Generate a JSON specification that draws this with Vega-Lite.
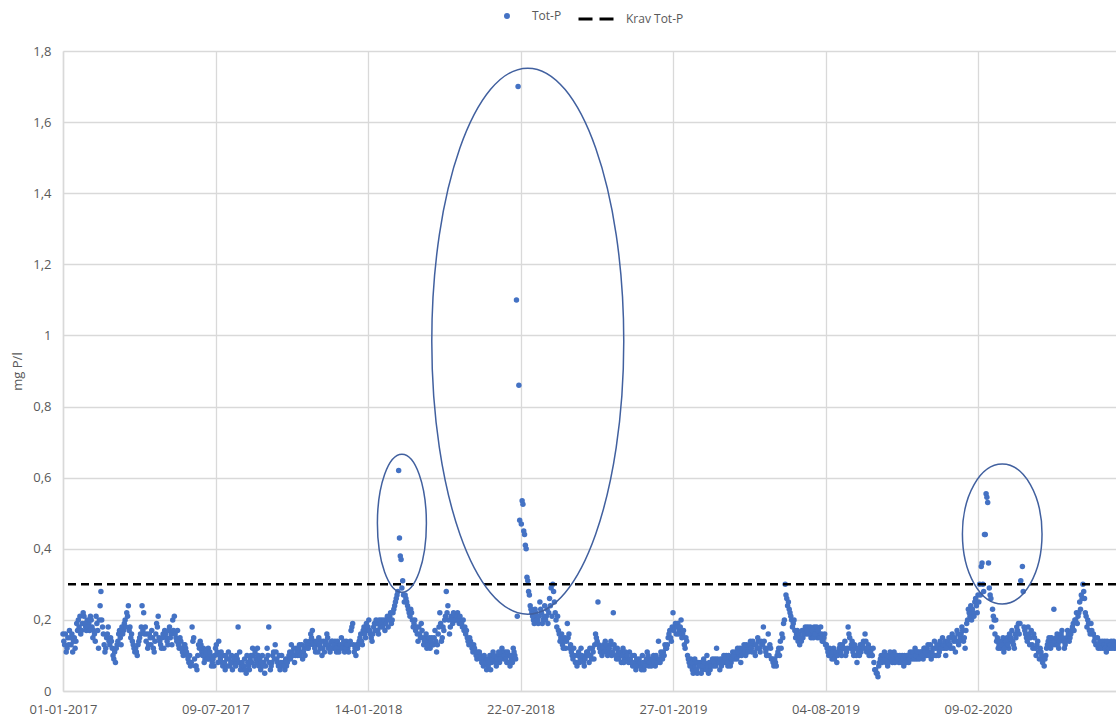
{
  "$schema": "https://vega.github.io/schema/vega-lite/v6.json",
  "width": 1053,
  "height": 640,
  "autosize": {"type": "none"},
  "padding": {"left": 63, "top": 51, "right": 0, "bottom": 29},
  "background": "white",
  "config": {
    "view": {"stroke": null},
    "font": "Open Sans",
    "axis": {"labelColor": "#595959", "titleColor": "#595959", "labelFontSize": 13, "titleFontSize": 13, "titleFontWeight": "normal", "gridColor": "#d9d9d9", "gridWidth": 1.3, "domainColor": "#d9d9d9", "domainWidth": 1.5, "ticks": false},
    "legend": {"labelColor": "#595959", "labelFontSize": 12, "padding": 0}
  },
  "resolve": {"scale": {"color": "independent"}, "legend": {"color": "independent"}},
  "layer": [
    {
      "data": {"values": [
{"d":"2017-01-01","v":0.16},{"d":"2017-01-03","v":0.13},{"d":"2017-01-05","v":0.11},{"d":"2017-01-07","v":0.15},{"d":"2017-01-09","v":0.17},{"d":"2017-01-11","v":0.13},{"d":"2017-01-13","v":0.11},{"d":"2017-01-15","v":0.15},{"d":"2017-01-17","v":0.14},{"d":"2017-01-19","v":0.17},{"d":"2017-01-21","v":0.18},{"d":"2017-01-23","v":0.16},{"d":"2017-01-25","v":0.19},{"d":"2017-01-27","v":0.21},{"d":"2017-01-29","v":0.18},{"d":"2017-01-31","v":0.2},
{"d":"2017-02-02","v":0.19},{"d":"2017-02-04","v":0.21},{"d":"2017-02-06","v":0.18},{"d":"2017-02-08","v":0.17},{"d":"2017-02-10","v":0.14},{"d":"2017-02-12","v":0.19},{"d":"2017-02-14","v":0.12},{"d":"2017-02-16","v":0.24},{"d":"2017-02-17","v":0.28},{"d":"2017-02-18","v":0.2},{"d":"2017-02-20","v":0.16},{"d":"2017-02-22","v":0.11},{"d":"2017-02-24","v":0.15},{"d":"2017-02-26","v":0.18},{"d":"2017-02-28","v":0.13},
{"d":"2017-03-01","v":0.15},{"d":"2017-03-03","v":0.12},{"d":"2017-03-05","v":0.09},{"d":"2017-03-07","v":0.08},{"d":"2017-03-09","v":0.13},{"d":"2017-03-11","v":0.16},{"d":"2017-03-13","v":0.15},{"d":"2017-03-15","v":0.18},{"d":"2017-03-17","v":0.17},{"d":"2017-03-19","v":0.2},{"d":"2017-03-21","v":0.22},{"d":"2017-03-23","v":0.24},{"d":"2017-03-25","v":0.18},{"d":"2017-03-27","v":0.16},{"d":"2017-03-29","v":0.13},{"d":"2017-03-31","v":0.11},
{"d":"2017-04-01","v":0.12},{"d":"2017-04-03","v":0.1},{"d":"2017-04-05","v":0.14},{"d":"2017-04-07","v":0.16},{"d":"2017-04-09","v":0.24},{"d":"2017-04-11","v":0.22},{"d":"2017-04-13","v":0.18},{"d":"2017-04-15","v":0.16},{"d":"2017-04-17","v":0.13},{"d":"2017-04-19","v":0.15},{"d":"2017-04-21","v":0.17},{"d":"2017-04-23","v":0.12},{"d":"2017-04-25","v":0.14},{"d":"2017-04-27","v":0.19},{"d":"2017-04-29","v":0.21},
{"d":"2017-05-01","v":0.14},{"d":"2017-05-03","v":0.12},{"d":"2017-05-05","v":0.16},{"d":"2017-05-07","v":0.17},{"d":"2017-05-09","v":0.15},{"d":"2017-05-11","v":0.13},{"d":"2017-05-13","v":0.18},{"d":"2017-05-15","v":0.16},{"d":"2017-05-17","v":0.2},{"d":"2017-05-19","v":0.21},{"d":"2017-05-21","v":0.15},{"d":"2017-05-23","v":0.17},{"d":"2017-05-25","v":0.12},{"d":"2017-05-27","v":0.14},{"d":"2017-05-29","v":0.11},{"d":"2017-05-31","v":0.13},
{"d":"2017-06-02","v":0.12},{"d":"2017-06-04","v":0.1},{"d":"2017-06-06","v":0.08},{"d":"2017-06-08","v":0.07},{"d":"2017-06-10","v":0.18},{"d":"2017-06-12","v":0.15},{"d":"2017-06-14","v":0.07},{"d":"2017-06-16","v":0.06},{"d":"2017-06-18","v":0.13},{"d":"2017-06-20","v":0.14},{"d":"2017-06-22","v":0.11},{"d":"2017-06-24","v":0.12},{"d":"2017-06-26","v":0.09},{"d":"2017-06-28","v":0.1},{"d":"2017-06-30","v":0.12},
{"d":"2017-07-01","v":0.09},{"d":"2017-07-03","v":0.1},{"d":"2017-07-05","v":0.08},{"d":"2017-07-07","v":0.07},{"d":"2017-07-09","v":0.12},{"d":"2017-07-11","v":0.11},{"d":"2017-07-13","v":0.14},{"d":"2017-07-15","v":0.09},{"d":"2017-07-17","v":0.08},{"d":"2017-07-19","v":0.1},{"d":"2017-07-21","v":0.06},{"d":"2017-07-23","v":0.09},{"d":"2017-07-25","v":0.11},{"d":"2017-07-27","v":0.07},{"d":"2017-07-29","v":0.1},{"d":"2017-07-31","v":0.08},
{"d":"2017-08-02","v":0.08},{"d":"2017-08-04","v":0.1},{"d":"2017-08-06","v":0.18},{"d":"2017-08-08","v":0.11},{"d":"2017-08-10","v":0.07},{"d":"2017-08-12","v":0.06},{"d":"2017-08-14","v":0.09},{"d":"2017-08-16","v":0.05},{"d":"2017-08-18","v":0.08},{"d":"2017-08-20","v":0.06},{"d":"2017-08-22","v":0.1},{"d":"2017-08-24","v":0.12},{"d":"2017-08-26","v":0.07},{"d":"2017-08-28","v":0.09},{"d":"2017-08-30","v":0.12},
{"d":"2017-09-01","v":0.07},{"d":"2017-09-03","v":0.06},{"d":"2017-09-05","v":0.1},{"d":"2017-09-07","v":0.08},{"d":"2017-09-09","v":0.07},{"d":"2017-09-11","v":0.12},{"d":"2017-09-13","v":0.18},{"d":"2017-09-15","v":0.06},{"d":"2017-09-17","v":0.08},{"d":"2017-09-19","v":0.11},{"d":"2017-09-21","v":0.13},{"d":"2017-09-23","v":0.09},{"d":"2017-09-25","v":0.07},{"d":"2017-09-27","v":0.06},{"d":"2017-09-29","v":0.1},
{"d":"2017-10-01","v":0.08},{"d":"2017-10-03","v":0.06},{"d":"2017-10-05","v":0.07},{"d":"2017-10-07","v":0.09},{"d":"2017-10-09","v":0.11},{"d":"2017-10-11","v":0.13},{"d":"2017-10-13","v":0.1},{"d":"2017-10-15","v":0.08},{"d":"2017-10-17","v":0.12},{"d":"2017-10-19","v":0.1},{"d":"2017-10-21","v":0.13},{"d":"2017-10-23","v":0.11},{"d":"2017-10-25","v":0.09},{"d":"2017-10-27","v":0.12},{"d":"2017-10-29","v":0.14},{"d":"2017-10-31","v":0.12},
{"d":"2017-11-02","v":0.13},{"d":"2017-11-04","v":0.16},{"d":"2017-11-06","v":0.17},{"d":"2017-11-08","v":0.14},{"d":"2017-11-10","v":0.11},{"d":"2017-11-12","v":0.13},{"d":"2017-11-14","v":0.15},{"d":"2017-11-16","v":0.12},{"d":"2017-11-18","v":0.1},{"d":"2017-11-20","v":0.14},{"d":"2017-11-22","v":0.13},{"d":"2017-11-24","v":0.16},{"d":"2017-11-26","v":0.12},{"d":"2017-11-28","v":0.11},{"d":"2017-11-30","v":0.14},
{"d":"2017-12-02","v":0.12},{"d":"2017-12-04","v":0.14},{"d":"2017-12-06","v":0.11},{"d":"2017-12-08","v":0.13},{"d":"2017-12-10","v":0.12},{"d":"2017-12-12","v":0.15},{"d":"2017-12-14","v":0.13},{"d":"2017-12-16","v":0.11},{"d":"2017-12-18","v":0.14},{"d":"2017-12-20","v":0.12},{"d":"2017-12-22","v":0.13},{"d":"2017-12-24","v":0.17},{"d":"2017-12-26","v":0.19},{"d":"2017-12-28","v":0.11},{"d":"2017-12-30","v":0.1},
{"d":"2018-01-01","v":0.12},{"d":"2018-01-03","v":0.14},{"d":"2018-01-05","v":0.16},{"d":"2018-01-07","v":0.13},{"d":"2018-01-09","v":0.18},{"d":"2018-01-11","v":0.15},{"d":"2018-01-13","v":0.17},{"d":"2018-01-15","v":0.2},{"d":"2018-01-17","v":0.16},{"d":"2018-01-19","v":0.14},{"d":"2018-01-21","v":0.18},{"d":"2018-01-23","v":0.17},{"d":"2018-01-25","v":0.19},{"d":"2018-01-27","v":0.16},{"d":"2018-01-29","v":0.18},{"d":"2018-01-31","v":0.2},
{"d":"2018-02-02","v":0.19},{"d":"2018-02-04","v":0.17},{"d":"2018-02-06","v":0.2},{"d":"2018-02-08","v":0.18},{"d":"2018-02-10","v":0.21},{"d":"2018-02-12","v":0.19},{"d":"2018-02-14","v":0.22},{"d":"2018-02-16","v":0.24},{"d":"2018-02-18","v":0.26},{"d":"2018-02-20","v":0.28},{"d":"2018-02-21","v":0.62},{"d":"2018-02-22","v":0.43},{"d":"2018-02-23","v":0.38},{"d":"2018-02-24","v":0.37},{"d":"2018-02-25","v":0.29},{"d":"2018-02-26","v":0.31},{"d":"2018-02-27","v":0.27},{"d":"2018-02-28","v":0.25},
{"d":"2018-03-02","v":0.26},{"d":"2018-03-04","v":0.24},{"d":"2018-03-06","v":0.22},{"d":"2018-03-08","v":0.23},{"d":"2018-03-10","v":0.2},{"d":"2018-03-12","v":0.19},{"d":"2018-03-14","v":0.17},{"d":"2018-03-16","v":0.16},{"d":"2018-03-18","v":0.18},{"d":"2018-03-20","v":0.15},{"d":"2018-03-22","v":0.17},{"d":"2018-03-24","v":0.13},{"d":"2018-03-26","v":0.15},{"d":"2018-03-28","v":0.12},{"d":"2018-03-30","v":0.14},
{"d":"2018-04-01","v":0.12},{"d":"2018-04-03","v":0.15},{"d":"2018-04-05","v":0.13},{"d":"2018-04-07","v":0.17},{"d":"2018-04-09","v":0.11},{"d":"2018-04-11","v":0.16},{"d":"2018-04-13","v":0.22},{"d":"2018-04-15","v":0.14},{"d":"2018-04-17","v":0.18},{"d":"2018-04-19","v":0.2},{"d":"2018-04-21","v":0.28},{"d":"2018-04-23","v":0.24},{"d":"2018-04-25","v":0.16},{"d":"2018-04-27","v":0.21},{"d":"2018-04-29","v":0.19},
{"d":"2018-05-01","v":0.21},{"d":"2018-05-03","v":0.2},{"d":"2018-05-05","v":0.22},{"d":"2018-05-07","v":0.19},{"d":"2018-05-09","v":0.2},{"d":"2018-05-11","v":0.18},{"d":"2018-05-13","v":0.17},{"d":"2018-05-15","v":0.16},{"d":"2018-05-17","v":0.15},{"d":"2018-05-19","v":0.13},{"d":"2018-05-21","v":0.14},{"d":"2018-05-23","v":0.12},{"d":"2018-05-25","v":0.13},{"d":"2018-05-27","v":0.11},{"d":"2018-05-29","v":0.09},{"d":"2018-05-31","v":0.1},
{"d":"2018-06-02","v":0.1},{"d":"2018-06-04","v":0.08},{"d":"2018-06-06","v":0.07},{"d":"2018-06-08","v":0.09},{"d":"2018-06-10","v":0.06},{"d":"2018-06-12","v":0.07},{"d":"2018-06-14","v":0.1},{"d":"2018-06-16","v":0.08},{"d":"2018-06-18","v":0.11},{"d":"2018-06-20","v":0.09},{"d":"2018-06-22","v":0.07},{"d":"2018-06-24","v":0.1},{"d":"2018-06-26","v":0.08},{"d":"2018-06-28","v":0.1},{"d":"2018-06-30","v":0.11},
{"d":"2018-07-01","v":0.09},{"d":"2018-07-03","v":0.11},{"d":"2018-07-05","v":0.08},{"d":"2018-07-07","v":0.1},{"d":"2018-07-09","v":0.07},{"d":"2018-07-11","v":0.09},{"d":"2018-07-13","v":0.12},{"d":"2018-07-15","v":0.1},{"d":"2018-07-17","v":1.1},{"d":"2018-07-18","v":0.21},{"d":"2018-07-19","v":1.7},{"d":"2018-07-20","v":0.86},{"d":"2018-07-21","v":0.48},{"d":"2018-07-23","v":0.47},{"d":"2018-07-24","v":0.535},{"d":"2018-07-25","v":0.525},{"d":"2018-07-26","v":0.45},{"d":"2018-07-27","v":0.44},{"d":"2018-07-28","v":0.41},{"d":"2018-07-29","v":0.4},{"d":"2018-07-30","v":0.32},{"d":"2018-07-31","v":0.31},
{"d":"2018-08-01","v":0.28},{"d":"2018-08-02","v":0.27},{"d":"2018-08-03","v":0.24},{"d":"2018-08-05","v":0.22},{"d":"2018-08-07","v":0.2},{"d":"2018-08-09","v":0.23},{"d":"2018-08-11","v":0.21},{"d":"2018-08-13","v":0.19},{"d":"2018-08-15","v":0.25},{"d":"2018-08-17","v":0.22},{"d":"2018-08-19","v":0.2},{"d":"2018-08-21","v":0.24},{"d":"2018-08-23","v":0.21},{"d":"2018-08-25","v":0.19},{"d":"2018-08-27","v":0.26},{"d":"2018-08-29","v":0.29},{"d":"2018-08-31","v":0.3},
{"d":"2018-09-02","v":0.25},{"d":"2018-09-04","v":0.2},{"d":"2018-09-06","v":0.21},{"d":"2018-09-08","v":0.16},{"d":"2018-09-10","v":0.15},{"d":"2018-09-12","v":0.13},{"d":"2018-09-14","v":0.14},{"d":"2018-09-16","v":0.12},{"d":"2018-09-18","v":0.19},{"d":"2018-09-20","v":0.16},{"d":"2018-09-22","v":0.13},{"d":"2018-09-24","v":0.1},{"d":"2018-09-26","v":0.12},{"d":"2018-09-28","v":0.08},{"d":"2018-09-30","v":0.07},
{"d":"2018-10-01","v":0.1},{"d":"2018-10-03","v":0.08},{"d":"2018-10-05","v":0.12},{"d":"2018-10-07","v":0.09},{"d":"2018-10-09","v":0.07},{"d":"2018-10-11","v":0.1},{"d":"2018-10-13","v":0.11},{"d":"2018-10-15","v":0.08},{"d":"2018-10-17","v":0.1},{"d":"2018-10-19","v":0.12},{"d":"2018-10-21","v":0.09},{"d":"2018-10-23","v":0.16},{"d":"2018-10-25","v":0.14},{"d":"2018-10-26","v":0.25},{"d":"2018-10-27","v":0.13},{"d":"2018-10-29","v":0.11},{"d":"2018-10-31","v":0.1},
{"d":"2018-11-02","v":0.13},{"d":"2018-11-04","v":0.14},{"d":"2018-11-06","v":0.12},{"d":"2018-11-08","v":0.11},{"d":"2018-11-10","v":0.13},{"d":"2018-11-12","v":0.1},{"d":"2018-11-14","v":0.22},{"d":"2018-11-16","v":0.12},{"d":"2018-11-18","v":0.09},{"d":"2018-11-20","v":0.11},{"d":"2018-11-22","v":0.1},{"d":"2018-11-24","v":0.08},{"d":"2018-11-26","v":0.12},{"d":"2018-11-28","v":0.09},{"d":"2018-11-30","v":0.1},
{"d":"2018-12-02","v":0.09},{"d":"2018-12-04","v":0.11},{"d":"2018-12-06","v":0.08},{"d":"2018-12-08","v":0.07},{"d":"2018-12-10","v":0.1},{"d":"2018-12-12","v":0.06},{"d":"2018-12-14","v":0.08},{"d":"2018-12-16","v":0.09},{"d":"2018-12-18","v":0.07},{"d":"2018-12-20","v":0.1},{"d":"2018-12-22","v":0.06},{"d":"2018-12-24","v":0.08},{"d":"2018-12-26","v":0.11},{"d":"2018-12-28","v":0.07},{"d":"2018-12-30","v":0.09},
{"d":"2019-01-01","v":0.08},{"d":"2019-01-03","v":0.1},{"d":"2019-01-05","v":0.07},{"d":"2019-01-07","v":0.09},{"d":"2019-01-09","v":0.14},{"d":"2019-01-11","v":0.08},{"d":"2019-01-13","v":0.1},{"d":"2019-01-15","v":0.11},{"d":"2019-01-17","v":0.13},{"d":"2019-01-19","v":0.12},{"d":"2019-01-21","v":0.15},{"d":"2019-01-23","v":0.17},{"d":"2019-01-25","v":0.14},{"d":"2019-01-27","v":0.22},{"d":"2019-01-29","v":0.18},{"d":"2019-01-31","v":0.16},
{"d":"2019-02-02","v":0.19},{"d":"2019-02-04","v":0.17},{"d":"2019-02-06","v":0.2},{"d":"2019-02-08","v":0.16},{"d":"2019-02-10","v":0.13},{"d":"2019-02-12","v":0.15},{"d":"2019-02-14","v":0.1},{"d":"2019-02-16","v":0.08},{"d":"2019-02-18","v":0.09},{"d":"2019-02-20","v":0.06},{"d":"2019-02-22","v":0.07},{"d":"2019-02-24","v":0.08},{"d":"2019-02-26","v":0.05},{"d":"2019-02-28","v":0.07},
{"d":"2019-03-02","v":0.08},{"d":"2019-03-04","v":0.06},{"d":"2019-03-06","v":0.09},{"d":"2019-03-08","v":0.07},{"d":"2019-03-10","v":0.1},{"d":"2019-03-12","v":0.05},{"d":"2019-03-14","v":0.06},{"d":"2019-03-16","v":0.08},{"d":"2019-03-18","v":0.07},{"d":"2019-03-20","v":0.09},{"d":"2019-03-22","v":0.12},{"d":"2019-03-24","v":0.08},{"d":"2019-03-26","v":0.06},{"d":"2019-03-28","v":0.07},{"d":"2019-03-30","v":0.09},
{"d":"2019-04-01","v":0.08},{"d":"2019-04-03","v":0.1},{"d":"2019-04-05","v":0.07},{"d":"2019-04-07","v":0.09},{"d":"2019-04-09","v":0.08},{"d":"2019-04-11","v":0.11},{"d":"2019-04-13","v":0.09},{"d":"2019-04-15","v":0.1},{"d":"2019-04-17","v":0.12},{"d":"2019-04-19","v":0.1},{"d":"2019-04-21","v":0.08},{"d":"2019-04-23","v":0.11},{"d":"2019-04-25","v":0.13},{"d":"2019-04-27","v":0.1},{"d":"2019-04-29","v":0.12},
{"d":"2019-05-01","v":0.12},{"d":"2019-05-03","v":0.14},{"d":"2019-05-05","v":0.11},{"d":"2019-05-07","v":0.13},{"d":"2019-05-09","v":0.1},{"d":"2019-05-11","v":0.12},{"d":"2019-05-13","v":0.14},{"d":"2019-05-15","v":0.11},{"d":"2019-05-17","v":0.13},{"d":"2019-05-19","v":0.18},{"d":"2019-05-21","v":0.12},{"d":"2019-05-23","v":0.1},{"d":"2019-05-25","v":0.16},{"d":"2019-05-27","v":0.13},{"d":"2019-05-29","v":0.09},{"d":"2019-05-31","v":0.08},
{"d":"2019-06-01","v":0.07},{"d":"2019-06-03","v":0.08},{"d":"2019-06-05","v":0.1},{"d":"2019-06-07","v":0.12},{"d":"2019-06-09","v":0.14},{"d":"2019-06-11","v":0.16},{"d":"2019-06-13","v":0.19},{"d":"2019-06-15","v":0.3},{"d":"2019-06-16","v":0.27},{"d":"2019-06-17","v":0.26},{"d":"2019-06-18","v":0.24},{"d":"2019-06-19","v":0.25},{"d":"2019-06-21","v":0.22},{"d":"2019-06-23","v":0.2},{"d":"2019-06-25","v":0.19},{"d":"2019-06-27","v":0.17},{"d":"2019-06-29","v":0.16},
{"d":"2019-07-01","v":0.14},{"d":"2019-07-03","v":0.13},{"d":"2019-07-05","v":0.14},{"d":"2019-07-07","v":0.15},{"d":"2019-07-09","v":0.17},{"d":"2019-07-11","v":0.16},{"d":"2019-07-13","v":0.18},{"d":"2019-07-15","v":0.17},{"d":"2019-07-17","v":0.15},{"d":"2019-07-19","v":0.16},{"d":"2019-07-21","v":0.18},{"d":"2019-07-23","v":0.17},{"d":"2019-07-25","v":0.15},{"d":"2019-07-27","v":0.16},{"d":"2019-07-29","v":0.18},{"d":"2019-07-31","v":0.14},
{"d":"2019-08-02","v":0.15},{"d":"2019-08-04","v":0.13},{"d":"2019-08-06","v":0.12},{"d":"2019-08-08","v":0.1},{"d":"2019-08-10","v":0.11},{"d":"2019-08-12","v":0.09},{"d":"2019-08-14","v":0.12},{"d":"2019-08-16","v":0.1},{"d":"2019-08-18","v":0.08},{"d":"2019-08-20","v":0.11},{"d":"2019-08-22","v":0.13},{"d":"2019-08-24","v":0.1},{"d":"2019-08-26","v":0.12},{"d":"2019-08-28","v":0.14},{"d":"2019-08-30","v":0.11},
{"d":"2019-09-01","v":0.18},{"d":"2019-09-02","v":0.16},{"d":"2019-09-04","v":0.12},{"d":"2019-09-06","v":0.14},{"d":"2019-09-08","v":0.1},{"d":"2019-09-10","v":0.12},{"d":"2019-09-12","v":0.08},{"d":"2019-09-14","v":0.11},{"d":"2019-09-16","v":0.13},{"d":"2019-09-18","v":0.12},{"d":"2019-09-20","v":0.14},{"d":"2019-09-22","v":0.16},{"d":"2019-09-24","v":0.11},{"d":"2019-09-26","v":0.13},{"d":"2019-09-28","v":0.12},{"d":"2019-09-30","v":0.1},
{"d":"2019-10-02","v":0.12},{"d":"2019-10-04","v":0.06},{"d":"2019-10-06","v":0.05},{"d":"2019-10-08","v":0.04},{"d":"2019-10-10","v":0.08},{"d":"2019-10-12","v":0.1},{"d":"2019-10-14","v":0.09},{"d":"2019-10-16","v":0.11},{"d":"2019-10-18","v":0.08},{"d":"2019-10-20","v":0.07},{"d":"2019-10-22","v":0.09},{"d":"2019-10-24","v":0.1},{"d":"2019-10-26","v":0.08},{"d":"2019-10-28","v":0.11},{"d":"2019-10-30","v":0.09},
{"d":"2019-11-01","v":0.1},{"d":"2019-11-03","v":0.08},{"d":"2019-11-05","v":0.09},{"d":"2019-11-07","v":0.1},{"d":"2019-11-09","v":0.07},{"d":"2019-11-11","v":0.09},{"d":"2019-11-13","v":0.1},{"d":"2019-11-15","v":0.08},{"d":"2019-11-17","v":0.11},{"d":"2019-11-19","v":0.09},{"d":"2019-11-21","v":0.1},{"d":"2019-11-23","v":0.12},{"d":"2019-11-25","v":0.09},{"d":"2019-11-27","v":0.11},{"d":"2019-11-29","v":0.1},
{"d":"2019-12-01","v":0.11},{"d":"2019-12-03","v":0.09},{"d":"2019-12-05","v":0.12},{"d":"2019-12-07","v":0.1},{"d":"2019-12-09","v":0.13},{"d":"2019-12-11","v":0.11},{"d":"2019-12-13","v":0.09},{"d":"2019-12-15","v":0.12},{"d":"2019-12-17","v":0.14},{"d":"2019-12-19","v":0.1},{"d":"2019-12-21","v":0.12},{"d":"2019-12-23","v":0.11},{"d":"2019-12-25","v":0.13},{"d":"2019-12-27","v":0.15},{"d":"2019-12-29","v":0.12},{"d":"2019-12-31","v":0.1},
{"d":"2020-01-02","v":0.13},{"d":"2020-01-04","v":0.15},{"d":"2020-01-06","v":0.12},{"d":"2020-01-08","v":0.16},{"d":"2020-01-10","v":0.14},{"d":"2020-01-12","v":0.11},{"d":"2020-01-14","v":0.17},{"d":"2020-01-16","v":0.13},{"d":"2020-01-18","v":0.15},{"d":"2020-01-20","v":0.18},{"d":"2020-01-22","v":0.14},{"d":"2020-01-24","v":0.12},{"d":"2020-01-26","v":0.19},{"d":"2020-01-28","v":0.23},{"d":"2020-01-30","v":0.21},
{"d":"2020-02-01","v":0.2},{"d":"2020-02-03","v":0.22},{"d":"2020-02-05","v":0.25},{"d":"2020-02-07","v":0.24},{"d":"2020-02-09","v":0.27},{"d":"2020-02-11","v":0.3},{"d":"2020-02-13","v":0.35},{"d":"2020-02-14","v":0.36},{"d":"2020-02-15","v":0.3},{"d":"2020-02-17","v":0.44},{"d":"2020-02-18","v":0.44},{"d":"2020-02-19","v":0.555},{"d":"2020-02-20","v":0.545},{"d":"2020-02-21","v":0.53},{"d":"2020-02-22","v":0.36},{"d":"2020-02-23","v":0.29},{"d":"2020-02-24","v":0.27},{"d":"2020-02-25","v":0.26},{"d":"2020-02-27","v":0.23},{"d":"2020-02-29","v":0.2},
{"d":"2020-03-02","v":0.2},{"d":"2020-03-04","v":0.15},{"d":"2020-03-06","v":0.13},{"d":"2020-03-08","v":0.12},{"d":"2020-03-10","v":0.14},{"d":"2020-03-12","v":0.11},{"d":"2020-03-14","v":0.13},{"d":"2020-03-16","v":0.15},{"d":"2020-03-18","v":0.12},{"d":"2020-03-20","v":0.14},{"d":"2020-03-22","v":0.17},{"d":"2020-03-24","v":0.13},{"d":"2020-03-26","v":0.16},{"d":"2020-03-28","v":0.18},{"d":"2020-03-30","v":0.19},
{"d":"2020-04-01","v":0.19},{"d":"2020-04-02","v":0.31},{"d":"2020-04-04","v":0.35},{"d":"2020-04-05","v":0.28},{"d":"2020-04-07","v":0.17},{"d":"2020-04-09","v":0.15},{"d":"2020-04-11","v":0.18},{"d":"2020-04-13","v":0.13},{"d":"2020-04-15","v":0.17},{"d":"2020-04-17","v":0.12},{"d":"2020-04-19","v":0.15},{"d":"2020-04-21","v":0.1},{"d":"2020-04-23","v":0.14},{"d":"2020-04-25","v":0.09},{"d":"2020-04-27","v":0.11},{"d":"2020-04-29","v":0.08},
{"d":"2020-05-01","v":0.07},{"d":"2020-05-03","v":0.1},{"d":"2020-05-05","v":0.13},{"d":"2020-05-07","v":0.15},{"d":"2020-05-09","v":0.12},{"d":"2020-05-11","v":0.14},{"d":"2020-05-13","v":0.23},{"d":"2020-05-15","v":0.13},{"d":"2020-05-17","v":0.16},{"d":"2020-05-19","v":0.12},{"d":"2020-05-21","v":0.15},{"d":"2020-05-23","v":0.17},{"d":"2020-05-25","v":0.14},{"d":"2020-05-27","v":0.13},{"d":"2020-05-29","v":0.15},{"d":"2020-05-31","v":0.16},
{"d":"2020-06-02","v":0.15},{"d":"2020-06-04","v":0.17},{"d":"2020-06-06","v":0.19},{"d":"2020-06-08","v":0.2},{"d":"2020-06-10","v":0.22},{"d":"2020-06-12","v":0.21},{"d":"2020-06-14","v":0.25},{"d":"2020-06-16","v":0.27},{"d":"2020-06-18","v":0.3},{"d":"2020-06-19","v":0.28},{"d":"2020-06-20","v":0.26},{"d":"2020-06-22","v":0.21},{"d":"2020-06-24","v":0.2},{"d":"2020-06-26","v":0.17},{"d":"2020-06-28","v":0.19},{"d":"2020-06-30","v":0.16},
{"d":"2020-07-01","v":0.16},{"d":"2020-07-03","v":0.15},{"d":"2020-07-05","v":0.13},{"d":"2020-07-07","v":0.12},{"d":"2020-07-09","v":0.14},{"d":"2020-07-11","v":0.13},{"d":"2020-07-13","v":0.12},{"d":"2020-07-15","v":0.14},{"d":"2020-07-17","v":0.11},{"d":"2020-07-19","v":0.13},{"d":"2020-07-21","v":0.12},{"d":"2020-07-23","v":0.14},{"d":"2020-07-25","v":0.13},{"d":"2020-07-27","v":0.12},{"d":"2020-07-29","v":0.13},
{"d":"2017-01-02","v":0.14},{"d":"2017-01-04","v":0.16},{"d":"2017-01-06","v":0.12},{"d":"2017-01-08","v":0.13},{"d":"2017-01-10","v":0.15},{"d":"2017-01-12","v":0.16},{"d":"2017-01-14","v":0.14},{"d":"2017-01-16","v":0.12},{"d":"2017-01-18","v":0.19},{"d":"2017-01-20","v":0.2},{"d":"2017-01-22","v":0.21},{"d":"2017-01-24","v":0.17},{"d":"2017-01-26","v":0.22},{"d":"2017-01-28","v":0.19},{"d":"2017-01-30","v":0.17},
{"d":"2017-02-01","v":0.18},{"d":"2017-02-03","v":0.17},{"d":"2017-02-05","v":0.2},{"d":"2017-02-07","v":0.15},{"d":"2017-02-09","v":0.16},{"d":"2017-02-11","v":0.21},{"d":"2017-02-13","v":0.17},{"d":"2017-02-15","v":0.2},{"d":"2017-02-19","v":0.18},{"d":"2017-02-21","v":0.13},{"d":"2017-02-23","v":0.12},{"d":"2017-02-25","v":0.16},{"d":"2017-02-27","v":0.14},
{"d":"2017-03-02","v":0.14},{"d":"2017-03-04","v":0.1},{"d":"2017-03-06","v":0.11},{"d":"2017-03-08","v":0.12},{"d":"2017-03-10","v":0.14},{"d":"2017-03-12","v":0.17},{"d":"2017-03-14","v":0.13},{"d":"2017-03-16","v":0.16},{"d":"2017-03-18","v":0.19},{"d":"2017-03-20","v":0.18},{"d":"2017-03-22","v":0.21},{"d":"2017-03-24","v":0.17},{"d":"2017-03-26","v":0.15},{"d":"2017-03-28","v":0.14},{"d":"2017-03-30","v":0.12},
{"d":"2017-04-02","v":0.11},{"d":"2017-04-04","v":0.13},{"d":"2017-04-06","v":0.15},{"d":"2017-04-08","v":0.18},{"d":"2017-04-10","v":0.17},{"d":"2017-04-12","v":0.16},{"d":"2017-04-14","v":0.14},{"d":"2017-04-16","v":0.12},{"d":"2017-04-18","v":0.16},{"d":"2017-04-20","v":0.13},{"d":"2017-04-22","v":0.15},{"d":"2017-04-24","v":0.11},{"d":"2017-04-26","v":0.16},{"d":"2017-04-28","v":0.18},{"d":"2017-04-30","v":0.15},
{"d":"2017-05-02","v":0.13},{"d":"2017-05-04","v":0.15},{"d":"2017-05-06","v":0.12},{"d":"2017-05-08","v":0.16},{"d":"2017-05-10","v":0.14},{"d":"2017-05-12","v":0.17},{"d":"2017-05-14","v":0.15},{"d":"2017-05-16","v":0.13},{"d":"2017-05-18","v":0.17},{"d":"2017-05-20","v":0.16},{"d":"2017-05-22","v":0.14},{"d":"2017-05-24","v":0.13},{"d":"2017-05-26","v":0.15},{"d":"2017-05-28","v":0.12},{"d":"2017-05-30","v":0.1},
{"d":"2017-06-01","v":0.13},{"d":"2017-06-03","v":0.11},{"d":"2017-06-05","v":0.09},{"d":"2017-06-07","v":0.1},{"d":"2017-06-09","v":0.08},{"d":"2017-06-11","v":0.14},{"d":"2017-06-13","v":0.09},{"d":"2017-06-15","v":0.07},{"d":"2017-06-17","v":0.1},{"d":"2017-06-19","v":0.12},{"d":"2017-06-21","v":0.13},{"d":"2017-06-23","v":0.1},{"d":"2017-06-25","v":0.08},{"d":"2017-06-27","v":0.11},{"d":"2017-06-29","v":0.09},
{"d":"2017-07-02","v":0.11},{"d":"2017-07-04","v":0.07},{"d":"2017-07-06","v":0.09},{"d":"2017-07-08","v":0.1},{"d":"2017-07-10","v":0.13},{"d":"2017-07-12","v":0.08},{"d":"2017-07-14","v":0.1},{"d":"2017-07-16","v":0.11},{"d":"2017-07-18","v":0.07},{"d":"2017-07-20","v":0.08},{"d":"2017-07-22","v":0.1},{"d":"2017-07-24","v":0.07},{"d":"2017-07-26","v":0.09},{"d":"2017-07-28","v":0.08},{"d":"2017-07-30","v":0.06},
{"d":"2017-08-01","v":0.09},{"d":"2017-08-03","v":0.07},{"d":"2017-08-05","v":0.09},{"d":"2017-08-07","v":0.08},{"d":"2017-08-09","v":0.06},{"d":"2017-08-11","v":0.08},{"d":"2017-08-13","v":0.07},{"d":"2017-08-15","v":0.06},{"d":"2017-08-17","v":0.1},{"d":"2017-08-19","v":0.07},{"d":"2017-08-21","v":0.09},{"d":"2017-08-23","v":0.08},{"d":"2017-08-25","v":0.1},{"d":"2017-08-27","v":0.11},{"d":"2017-08-29","v":0.08},{"d":"2017-08-31","v":0.1},
{"d":"2017-09-02","v":0.09},{"d":"2017-09-04","v":0.08},{"d":"2017-09-06","v":0.07},{"d":"2017-09-08","v":0.05},{"d":"2017-09-10","v":0.09},{"d":"2017-09-12","v":0.1},{"d":"2017-09-14","v":0.08},{"d":"2017-09-16","v":0.07},{"d":"2017-09-18","v":0.1},{"d":"2017-09-20","v":0.09},{"d":"2017-09-22","v":0.11},{"d":"2017-09-24","v":0.08},{"d":"2017-09-26","v":0.1},{"d":"2017-09-28","v":0.08},{"d":"2017-09-30","v":0.07},
{"d":"2017-10-02","v":0.07},{"d":"2017-10-04","v":0.09},{"d":"2017-10-06","v":0.08},{"d":"2017-10-08","v":0.1},{"d":"2017-10-10","v":0.09},{"d":"2017-10-12","v":0.11},{"d":"2017-10-14","v":0.12},{"d":"2017-10-16","v":0.1},{"d":"2017-10-18","v":0.11},{"d":"2017-10-20","v":0.12},{"d":"2017-10-22","v":0.1},{"d":"2017-10-24","v":0.13},{"d":"2017-10-26","v":0.11},{"d":"2017-10-28","v":0.1},{"d":"2017-10-30","v":0.13},
{"d":"2017-11-01","v":0.12},{"d":"2017-11-03","v":0.14},{"d":"2017-11-05","v":0.15},{"d":"2017-11-07","v":0.13},{"d":"2017-11-09","v":0.12},{"d":"2017-11-11","v":0.14},{"d":"2017-11-13","v":0.11},{"d":"2017-11-15","v":0.13},{"d":"2017-11-17","v":0.14},{"d":"2017-11-19","v":0.12},{"d":"2017-11-21","v":0.11},{"d":"2017-11-23","v":0.14},{"d":"2017-11-25","v":0.15},{"d":"2017-11-27","v":0.13},{"d":"2017-11-29","v":0.12},
{"d":"2017-12-01","v":0.14},{"d":"2017-12-03","v":0.13},{"d":"2017-12-05","v":0.12},{"d":"2017-12-07","v":0.14},{"d":"2017-12-09","v":0.11},{"d":"2017-12-11","v":0.13},{"d":"2017-12-13","v":0.12},{"d":"2017-12-15","v":0.14},{"d":"2017-12-17","v":0.12},{"d":"2017-12-19","v":0.13},{"d":"2017-12-21","v":0.11},{"d":"2017-12-23","v":0.14},{"d":"2017-12-25","v":0.18},{"d":"2017-12-27","v":0.13},{"d":"2017-12-29","v":0.12},{"d":"2017-12-31","v":0.13},
{"d":"2018-01-02","v":0.13},{"d":"2018-01-04","v":0.15},{"d":"2018-01-06","v":0.14},{"d":"2018-01-08","v":0.17},{"d":"2018-01-10","v":0.16},{"d":"2018-01-12","v":0.19},{"d":"2018-01-14","v":0.18},{"d":"2018-01-16","v":0.17},{"d":"2018-01-18","v":0.15},{"d":"2018-01-20","v":0.16},{"d":"2018-01-22","v":0.19},{"d":"2018-01-24","v":0.2},{"d":"2018-01-26","v":0.17},{"d":"2018-01-28","v":0.2},{"d":"2018-01-30","v":0.19},
{"d":"2018-02-01","v":0.18},{"d":"2018-02-03","v":0.2},{"d":"2018-02-05","v":0.19},{"d":"2018-02-07","v":0.21},{"d":"2018-02-09","v":0.2},{"d":"2018-02-11","v":0.22},{"d":"2018-02-13","v":0.2},{"d":"2018-02-15","v":0.23},{"d":"2018-02-17","v":0.25},{"d":"2018-02-19","v":0.27},
{"d":"2018-03-01","v":0.27},{"d":"2018-03-03","v":0.25},{"d":"2018-03-05","v":0.23},{"d":"2018-03-07","v":0.21},{"d":"2018-03-09","v":0.22},{"d":"2018-03-11","v":0.18},{"d":"2018-03-13","v":0.2},{"d":"2018-03-15","v":0.18},{"d":"2018-03-17","v":0.14},{"d":"2018-03-19","v":0.16},{"d":"2018-03-21","v":0.19},{"d":"2018-03-23","v":0.15},{"d":"2018-03-25","v":0.14},{"d":"2018-03-27","v":0.16},{"d":"2018-03-29","v":0.13},{"d":"2018-03-31","v":0.15},
{"d":"2018-04-02","v":0.14},{"d":"2018-04-04","v":0.13},{"d":"2018-04-06","v":0.15},{"d":"2018-04-08","v":0.14},{"d":"2018-04-10","v":0.13},{"d":"2018-04-12","v":0.18},{"d":"2018-04-14","v":0.19},{"d":"2018-04-16","v":0.15},{"d":"2018-04-18","v":0.17},{"d":"2018-04-20","v":0.21},{"d":"2018-04-22","v":0.22},{"d":"2018-04-24","v":0.2},{"d":"2018-04-26","v":0.18},{"d":"2018-04-28","v":0.2},{"d":"2018-04-30","v":0.22},
{"d":"2018-05-02","v":0.2},{"d":"2018-05-04","v":0.21},{"d":"2018-05-06","v":0.2},{"d":"2018-05-08","v":0.21},{"d":"2018-05-10","v":0.19},{"d":"2018-05-12","v":0.2},{"d":"2018-05-14","v":0.18},{"d":"2018-05-16","v":0.17},{"d":"2018-05-18","v":0.14},{"d":"2018-05-20","v":0.15},{"d":"2018-05-22","v":0.13},{"d":"2018-05-24","v":0.11},{"d":"2018-05-26","v":0.12},{"d":"2018-05-28","v":0.1},{"d":"2018-05-30","v":0.11},
{"d":"2018-06-01","v":0.11},{"d":"2018-06-03","v":0.09},{"d":"2018-06-05","v":0.08},{"d":"2018-06-07","v":0.1},{"d":"2018-06-09","v":0.08},{"d":"2018-06-11","v":0.09},{"d":"2018-06-13","v":0.08},{"d":"2018-06-15","v":0.06},{"d":"2018-06-17","v":0.09},{"d":"2018-06-19","v":0.1},{"d":"2018-06-21","v":0.08},{"d":"2018-06-23","v":0.09},{"d":"2018-06-25","v":0.11},{"d":"2018-06-27","v":0.09},{"d":"2018-06-29","v":0.12},
{"d":"2018-07-02","v":0.1},{"d":"2018-07-04","v":0.09},{"d":"2018-07-06","v":0.11},{"d":"2018-07-08","v":0.08},{"d":"2018-07-10","v":0.1},{"d":"2018-07-12","v":0.08},{"d":"2018-07-14","v":0.11},{"d":"2018-07-16","v":0.09},
{"d":"2018-08-04","v":0.23},{"d":"2018-08-06","v":0.21},{"d":"2018-08-08","v":0.19},{"d":"2018-08-10","v":0.22},{"d":"2018-08-12","v":0.2},{"d":"2018-08-14","v":0.21},{"d":"2018-08-16","v":0.23},{"d":"2018-08-18","v":0.19},{"d":"2018-08-20","v":0.21},{"d":"2018-08-22","v":0.2},{"d":"2018-08-24","v":0.23},{"d":"2018-08-26","v":0.22},{"d":"2018-08-28","v":0.24},{"d":"2018-08-30","v":0.21},
{"d":"2018-09-01","v":0.28},{"d":"2018-09-03","v":0.22},{"d":"2018-09-05","v":0.18},{"d":"2018-09-07","v":0.17},{"d":"2018-09-09","v":0.14},{"d":"2018-09-11","v":0.16},{"d":"2018-09-13","v":0.12},{"d":"2018-09-15","v":0.15},{"d":"2018-09-17","v":0.14},{"d":"2018-09-19","v":0.15},{"d":"2018-09-21","v":0.12},{"d":"2018-09-23","v":0.11},{"d":"2018-09-25","v":0.09},{"d":"2018-09-27","v":0.1},{"d":"2018-09-29","v":0.08},
{"d":"2018-10-02","v":0.11},{"d":"2018-10-04","v":0.09},{"d":"2018-10-06","v":0.1},{"d":"2018-10-08","v":0.08},{"d":"2018-10-10","v":0.09},{"d":"2018-10-12","v":0.11},{"d":"2018-10-14","v":0.1},{"d":"2018-10-16","v":0.12},{"d":"2018-10-18","v":0.09},{"d":"2018-10-20","v":0.11},{"d":"2018-10-22","v":0.13},{"d":"2018-10-24","v":0.15},{"d":"2018-10-28","v":0.12},{"d":"2018-10-30","v":0.11},
{"d":"2018-11-01","v":0.12},{"d":"2018-11-03","v":0.11},{"d":"2018-11-05","v":0.13},{"d":"2018-11-07","v":0.1},{"d":"2018-11-09","v":0.12},{"d":"2018-11-11","v":0.14},{"d":"2018-11-13","v":0.11},{"d":"2018-11-15","v":0.13},{"d":"2018-11-17","v":0.1},{"d":"2018-11-19","v":0.12},{"d":"2018-11-21","v":0.09},{"d":"2018-11-23","v":0.11},{"d":"2018-11-25","v":0.1},{"d":"2018-11-27","v":0.08},{"d":"2018-11-29","v":0.11},
{"d":"2018-12-01","v":0.1},{"d":"2018-12-03","v":0.08},{"d":"2018-12-05","v":0.09},{"d":"2018-12-07","v":0.1},{"d":"2018-12-09","v":0.08},{"d":"2018-12-11","v":0.07},{"d":"2018-12-13","v":0.09},{"d":"2018-12-15","v":0.07},{"d":"2018-12-17","v":0.08},{"d":"2018-12-19","v":0.06},{"d":"2018-12-21","v":0.08},{"d":"2018-12-23","v":0.07},{"d":"2018-12-25","v":0.09},{"d":"2018-12-27","v":0.1},{"d":"2018-12-29","v":0.08},{"d":"2018-12-31","v":0.07},
{"d":"2019-01-02","v":0.09},{"d":"2019-01-04","v":0.08},{"d":"2019-01-06","v":0.1},{"d":"2019-01-08","v":0.08},{"d":"2019-01-10","v":0.09},{"d":"2019-01-12","v":0.11},{"d":"2019-01-14","v":0.09},{"d":"2019-01-16","v":0.1},{"d":"2019-01-18","v":0.12},{"d":"2019-01-20","v":0.13},{"d":"2019-01-22","v":0.16},{"d":"2019-01-24","v":0.15},{"d":"2019-01-26","v":0.18},{"d":"2019-01-28","v":0.17},{"d":"2019-01-30","v":0.19},
{"d":"2019-02-01","v":0.18},{"d":"2019-02-03","v":0.16},{"d":"2019-02-05","v":0.18},{"d":"2019-02-07","v":0.15},{"d":"2019-02-09","v":0.17},{"d":"2019-02-11","v":0.12},{"d":"2019-02-13","v":0.14},{"d":"2019-02-15","v":0.09},{"d":"2019-02-17","v":0.07},{"d":"2019-02-19","v":0.08},{"d":"2019-02-21","v":0.05},{"d":"2019-02-23","v":0.09},{"d":"2019-02-25","v":0.06},{"d":"2019-02-27","v":0.08},
{"d":"2019-03-01","v":0.07},{"d":"2019-03-03","v":0.05},{"d":"2019-03-05","v":0.07},{"d":"2019-03-07","v":0.08},{"d":"2019-03-09","v":0.06},{"d":"2019-03-11","v":0.07},{"d":"2019-03-13","v":0.08},{"d":"2019-03-15","v":0.07},{"d":"2019-03-17","v":0.09},{"d":"2019-03-19","v":0.08},{"d":"2019-03-21","v":0.07},{"d":"2019-03-23","v":0.09},{"d":"2019-03-25","v":0.08},{"d":"2019-03-27","v":0.09},{"d":"2019-03-29","v":0.08},{"d":"2019-03-31","v":0.1},
{"d":"2019-04-02","v":0.09},{"d":"2019-04-04","v":0.08},{"d":"2019-04-06","v":0.1},{"d":"2019-04-08","v":0.07},{"d":"2019-04-10","v":0.09},{"d":"2019-04-12","v":0.1},{"d":"2019-04-14","v":0.11},{"d":"2019-04-16","v":0.09},{"d":"2019-04-18","v":0.11},{"d":"2019-04-20","v":0.12},{"d":"2019-04-22","v":0.1},{"d":"2019-04-24","v":0.12},{"d":"2019-04-26","v":0.11},{"d":"2019-04-28","v":0.13},{"d":"2019-04-30","v":0.11},
{"d":"2019-05-02","v":0.13},{"d":"2019-05-04","v":0.12},{"d":"2019-05-06","v":0.14},{"d":"2019-05-08","v":0.11},{"d":"2019-05-10","v":0.13},{"d":"2019-05-12","v":0.15},{"d":"2019-05-14","v":0.12},{"d":"2019-05-16","v":0.14},{"d":"2019-05-18","v":0.13},{"d":"2019-05-20","v":0.14},{"d":"2019-05-22","v":0.11},{"d":"2019-05-24","v":0.12},{"d":"2019-05-26","v":0.1},{"d":"2019-05-28","v":0.12},{"d":"2019-05-30","v":0.09},
{"d":"2019-06-02","v":0.09},{"d":"2019-06-04","v":0.07},{"d":"2019-06-06","v":0.11},{"d":"2019-06-08","v":0.1},{"d":"2019-06-10","v":0.12},{"d":"2019-06-12","v":0.15},{"d":"2019-06-14","v":0.2},{"d":"2019-06-20","v":0.23},{"d":"2019-06-22","v":0.21},{"d":"2019-06-24","v":0.18},{"d":"2019-06-26","v":0.2},{"d":"2019-06-28","v":0.15},{"d":"2019-06-30","v":0.17},
{"d":"2019-07-02","v":0.16},{"d":"2019-07-04","v":0.15},{"d":"2019-07-06","v":0.17},{"d":"2019-07-08","v":0.16},{"d":"2019-07-10","v":0.18},{"d":"2019-07-12","v":0.17},{"d":"2019-07-14","v":0.16},{"d":"2019-07-16","v":0.18},{"d":"2019-07-18","v":0.17},{"d":"2019-07-20","v":0.15},{"d":"2019-07-22","v":0.16},{"d":"2019-07-24","v":0.18},{"d":"2019-07-26","v":0.17},{"d":"2019-07-28","v":0.15},{"d":"2019-07-30","v":0.16},
{"d":"2019-08-01","v":0.14},{"d":"2019-08-03","v":0.16},{"d":"2019-08-05","v":0.13},{"d":"2019-08-07","v":0.11},{"d":"2019-08-09","v":0.12},{"d":"2019-08-11","v":0.1},{"d":"2019-08-13","v":0.11},{"d":"2019-08-15","v":0.09},{"d":"2019-08-17","v":0.11},{"d":"2019-08-19","v":0.1},{"d":"2019-08-21","v":0.12},{"d":"2019-08-23","v":0.11},{"d":"2019-08-25","v":0.13},{"d":"2019-08-27","v":0.12},{"d":"2019-08-29","v":0.1},{"d":"2019-08-31","v":0.12},
{"d":"2019-09-03","v":0.15},{"d":"2019-09-05","v":0.13},{"d":"2019-09-07","v":0.11},{"d":"2019-09-09","v":0.13},{"d":"2019-09-11","v":0.1},{"d":"2019-09-13","v":0.12},{"d":"2019-09-15","v":0.1},{"d":"2019-09-17","v":0.11},{"d":"2019-09-19","v":0.13},{"d":"2019-09-21","v":0.12},{"d":"2019-09-23","v":0.14},{"d":"2019-09-25","v":0.12},{"d":"2019-09-27","v":0.1},{"d":"2019-09-29","v":0.11},
{"d":"2019-10-01","v":0.1},{"d":"2019-10-03","v":0.08},{"d":"2019-10-05","v":0.06},{"d":"2019-10-07","v":0.05},{"d":"2019-10-09","v":0.07},{"d":"2019-10-11","v":0.09},{"d":"2019-10-13","v":0.08},{"d":"2019-10-15","v":0.1},{"d":"2019-10-17","v":0.09},{"d":"2019-10-19","v":0.1},{"d":"2019-10-21","v":0.08},{"d":"2019-10-23","v":0.11},{"d":"2019-10-25","v":0.09},{"d":"2019-10-27","v":0.1},{"d":"2019-10-29","v":0.08},{"d":"2019-10-31","v":0.1},
{"d":"2019-11-02","v":0.09},{"d":"2019-11-04","v":0.1},{"d":"2019-11-06","v":0.08},{"d":"2019-11-08","v":0.09},{"d":"2019-11-10","v":0.1},{"d":"2019-11-12","v":0.08},{"d":"2019-11-14","v":0.1},{"d":"2019-11-16","v":0.09},{"d":"2019-11-18","v":0.1},{"d":"2019-11-20","v":0.11},{"d":"2019-11-22","v":0.09},{"d":"2019-11-24","v":0.1},{"d":"2019-11-26","v":0.11},{"d":"2019-11-28","v":0.09},{"d":"2019-11-30","v":0.11},
{"d":"2019-12-02","v":0.1},{"d":"2019-12-04","v":0.12},{"d":"2019-12-06","v":0.11},{"d":"2019-12-08","v":0.12},{"d":"2019-12-10","v":0.1},{"d":"2019-12-12","v":0.13},{"d":"2019-12-14","v":0.11},{"d":"2019-12-16","v":0.1},{"d":"2019-12-18","v":0.12},{"d":"2019-12-20","v":0.13},{"d":"2019-12-22","v":0.1},{"d":"2019-12-24","v":0.14},{"d":"2019-12-26","v":0.12},{"d":"2019-12-28","v":0.13},{"d":"2019-12-30","v":0.14},
{"d":"2020-01-01","v":0.12},{"d":"2020-01-03","v":0.14},{"d":"2020-01-05","v":0.13},{"d":"2020-01-07","v":0.15},{"d":"2020-01-09","v":0.12},{"d":"2020-01-11","v":0.15},{"d":"2020-01-13","v":0.14},{"d":"2020-01-15","v":0.16},{"d":"2020-01-17","v":0.14},{"d":"2020-01-19","v":0.16},{"d":"2020-01-21","v":0.17},{"d":"2020-01-23","v":0.15},{"d":"2020-01-25","v":0.17},{"d":"2020-01-27","v":0.2},{"d":"2020-01-29","v":0.22},{"d":"2020-01-31","v":0.24},
{"d":"2020-02-02","v":0.23},{"d":"2020-02-04","v":0.21},{"d":"2020-02-06","v":0.26},{"d":"2020-02-08","v":0.22},{"d":"2020-02-10","v":0.25},{"d":"2020-02-12","v":0.27},{"d":"2020-02-16","v":0.28},{"d":"2020-02-26","v":0.18},{"d":"2020-02-28","v":0.21},
{"d":"2020-03-01","v":0.16},{"d":"2020-03-03","v":0.14},{"d":"2020-03-05","v":0.12},{"d":"2020-03-07","v":0.14},{"d":"2020-03-09","v":0.13},{"d":"2020-03-11","v":0.15},{"d":"2020-03-13","v":0.12},{"d":"2020-03-15","v":0.14},{"d":"2020-03-17","v":0.13},{"d":"2020-03-19","v":0.16},{"d":"2020-03-21","v":0.15},{"d":"2020-03-23","v":0.14},{"d":"2020-03-25","v":0.12},{"d":"2020-03-27","v":0.15},{"d":"2020-03-29","v":0.17},{"d":"2020-03-31","v":0.16},
{"d":"2020-04-06","v":0.18},{"d":"2020-04-08","v":0.16},{"d":"2020-04-10","v":0.14},{"d":"2020-04-12","v":0.16},{"d":"2020-04-14","v":0.15},{"d":"2020-04-16","v":0.13},{"d":"2020-04-18","v":0.16},{"d":"2020-04-20","v":0.12},{"d":"2020-04-22","v":0.13},{"d":"2020-04-24","v":0.11},{"d":"2020-04-26","v":0.12},{"d":"2020-04-28","v":0.1},{"d":"2020-04-30","v":0.09},
{"d":"2020-05-02","v":0.09},{"d":"2020-05-04","v":0.12},{"d":"2020-05-06","v":0.14},{"d":"2020-05-08","v":0.13},{"d":"2020-05-10","v":0.15},{"d":"2020-05-12","v":0.13},{"d":"2020-05-14","v":0.14},{"d":"2020-05-16","v":0.15},{"d":"2020-05-18","v":0.13},{"d":"2020-05-20","v":0.14},{"d":"2020-05-22","v":0.16},{"d":"2020-05-24","v":0.15},{"d":"2020-05-26","v":0.12},{"d":"2020-05-28","v":0.14},{"d":"2020-05-30","v":0.17},
{"d":"2020-06-01","v":0.14},{"d":"2020-06-03","v":0.16},{"d":"2020-06-05","v":0.18},{"d":"2020-06-07","v":0.17},{"d":"2020-06-09","v":0.2},{"d":"2020-06-11","v":0.19},{"d":"2020-06-13","v":0.22},{"d":"2020-06-15","v":0.23},{"d":"2020-06-17","v":0.26},{"d":"2020-06-21","v":0.22},{"d":"2020-06-23","v":0.18},{"d":"2020-06-25","v":0.19},{"d":"2020-06-27","v":0.16},{"d":"2020-06-29","v":0.17},
{"d":"2020-07-02","v":0.14},{"d":"2020-07-04","v":0.13},{"d":"2020-07-06","v":0.15},{"d":"2020-07-08","v":0.13},{"d":"2020-07-10","v":0.12},{"d":"2020-07-12","v":0.14},{"d":"2020-07-14","v":0.13},{"d":"2020-07-16","v":0.12},{"d":"2020-07-18","v":0.14},{"d":"2020-07-20","v":0.12},{"d":"2020-07-22","v":0.13},{"d":"2020-07-24","v":0.12},{"d":"2020-07-26","v":0.14},{"d":"2020-07-28","v":0.13}
      ]},
      "mark": {"type": "point", "filled": true, "size": 30, "opacity": 1},
      "encoding": {
        "x": {"field": "d", "type": "temporal",
          "scale": {"type": "utc", "domain": [1483228800000, 1595980800000], "nice": false},
          "axis": {"title": null, "values": [1483228800000, 1499558400000, 1515888000000, 1532217600000, 1548547200000, 1564876800000, 1581206400000], "format": "%d-%m-%Y", "labelPadding": 12, "labelFlush": false, "labelOverlap": false}},
        "y": {"field": "v", "type": "quantitative",
          "scale": {"domain": [0, 1.8], "nice": false, "zero": true},
          "axis": {"title": "mg P/l", "values": [0, 0.2, 0.4, 0.6, 0.8, 1, 1.2, 1.4, 1.6, 1.8], "labelExpr": "replace(format(datum.value, '.1~f'), '.', ',')", "labelPadding": 12, "titlePadding": 8}},
        "color": {"datum": "Tot-P", "type": "nominal",
          "scale": {"domain": ["Tot-P"], "range": ["#4472C4"]},
          "legend": {"orient": "none", "legendX": 438, "legendY": -41, "title": null, "symbolSize": 36, "symbolType": "circle", "labelOffset": 19}}
      }
    },
    {
      "data": {"values": [{}]},
      "mark": {"type": "rule", "strokeDash": [8, 5], "strokeWidth": 2.5},
      "encoding": {"y": {"datum": 0.3, "type": "quantitative"},
        "color": {"datum": "Krav Tot-P", "type": "nominal",
          "scale": {"domain": ["Krav Tot-P"], "range": ["#000000"]},
          "legend": {"orient": "none", "legendX": 514, "legendY": -51, "title": null, "symbolType": "stroke", "symbolSize": 1225, "symbolStrokeWidth": 3, "symbolDash": [14, 7], "symbolStrokeColor": "#000000", "labelOffset": 11}}}
    },
    {
      "data": {"values": [{"d": "2018-02-25", "v": 0.472}]},
      "mark": {"type": "point", "filled": false, "stroke": "#41609F", "strokeWidth": 1.5, "opacity": 1, "size": 19044,
        "shape": "M0.355,0C0.355,0.5523 0.196,1 0,1C-0.196,1 -0.355,0.5523 -0.355,0C-0.355,-0.5523 -0.196,-1 0,-1C0.196,-1 0.355,-0.5523 0.355,0Z"},
      "encoding": {"x": {"field": "d", "type": "temporal", "scale": {"type": "utc"}}, "y": {"field": "v", "type": "quantitative"}}
    },
    {
      "data": {"values": [{"d": "2018-07-31", "v": 0.984}]},
      "mark": {"type": "point", "filled": false, "stroke": "#41609F", "strokeWidth": 1.5, "opacity": 1, "size": 298116,
        "shape": "M0.3516,0C0.3516,0.5523 0.1942,1 0,1C-0.1942,1 -0.3516,0.5523 -0.3516,0C-0.3516,-0.5523 -0.1942,-1 0,-1C0.1942,-1 0.3516,-0.5523 0.3516,0Z"},
      "encoding": {"x": {"field": "d", "type": "temporal", "scale": {"type": "utc"}}, "y": {"field": "v", "type": "quantitative"}}
    },
    {
      "data": {"values": [{"d": "2020-03-10", "v": 0.4415}]},
      "mark": {"type": "point", "filled": false, "stroke": "#41609F", "strokeWidth": 1.5, "opacity": 1, "size": 19600,
        "shape": "M0.5686,0C0.5686,0.5523 0.314,1 0,1C-0.314,1 -0.5686,0.5523 -0.5686,0C-0.5686,-0.5523 -0.314,-1 0,-1C0.314,-1 0.5686,-0.5523 0.5686,0Z"},
      "encoding": {"x": {"field": "d", "type": "temporal", "scale": {"type": "utc"}}, "y": {"field": "v", "type": "quantitative"}}
    }
  ]
}
